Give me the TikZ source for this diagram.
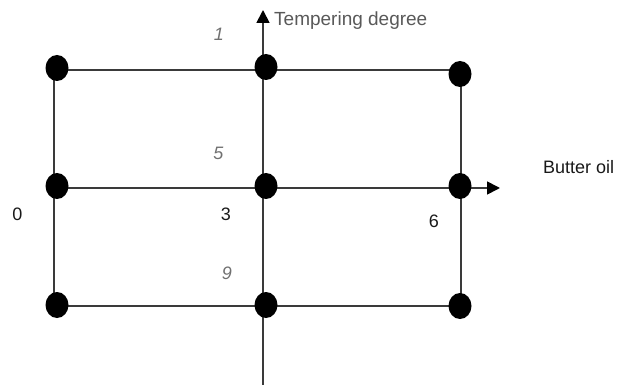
\documentclass[tikz,border=0pt]{standalone}
\usepackage{fontspec}
\setmainfont{Liberation Sans}
\usetikzlibrary{arrows.meta,shapes.geometric}
\definecolor{linecol}{HTML}{3A3A3A}
\definecolor{axislab}{HTML}{595959}
\definecolor{numgray}{HTML}{707070}
\begin{document}
\begin{tikzpicture}[x=1pt,y=-1pt,
  dot/.style={ellipse,fill=black,draw=none,minimum width=23pt,minimum height=26pt,inner sep=0pt},
  gridline/.style={draw=linecol,line width=1.8pt},
  axisarrow/.style={gridline,-{Triangle[length=13pt,width=13pt,color=black]}},
  lab/.style={font=\fontsize{18}{22}\selectfont,inner sep=0pt,anchor=base},
  glab/.style={lab,text=numgray,font=\fontsize{18}{22}\selectfont\itshape},
  tlab/.style={lab,text=black!90}]
\useasboundingbox (0,0) rectangle (619,385);
% grid coordinates
\coordinate (tl) at (54,70);  \coordinate (tc) at (263,70);  \coordinate (tr) at (461,70);
\coordinate (ml) at (54,188); \coordinate (mc) at (263,188); \coordinate (mr) at (461,188);
\coordinate (bl) at (54,306); \coordinate (bc) at (263,306); \coordinate (br) at (461,306);
\coordinate (vbot) at (263,385); \coordinate (vtop) at (263,10);
\coordinate (hend) at (500,188);
% lines
\draw[gridline] (tl) -- (tr) -- (br) -- (bl) -- cycle;
\draw[axisarrow] (ml) -- (hend);
\draw[axisarrow] (vbot) -- (vtop);
% dots
\node[dot] (d1) at (57,68) {};
\node[dot] (d2) at (266,67) {};
\node[dot] (d3) at (460,74) {};
\node[dot] (d4) at (57,186) {};
\node[dot] (d5) at (266,186) {};
\node[dot] (d6) at (460,186) {};
\node[dot] (d7) at (57,305) {};
\node[dot] (d8) at (266,305) {};
\node[dot] (d9) at (460,306) {};
% labels
\node[lab,anchor=base west,text=axislab,font=\fontsize{19}{23}\selectfont] (ty) at (274,26) {Tempering degree};
\node[lab,anchor=base west,text=black!90] (tx) at (543,174) {Butter oil};
\node[glab] (n1) at (219,41) {1};
\node[glab] (n5) at (218.5,160) {5};
\node[glab] (n9) at (227,279) {9};
\node[tlab] (n0) at (17.5,220) {0};
\node[tlab] (n3) at (226,220) {3};
\node[tlab] (n6) at (434,227) {6};
\end{tikzpicture}
\end{document}
